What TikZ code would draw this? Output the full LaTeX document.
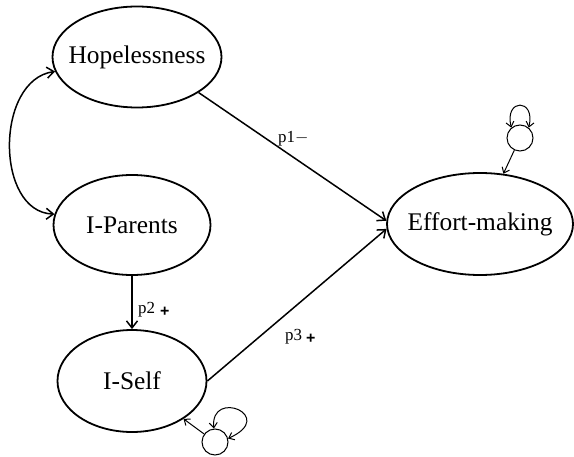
\documentclass[tikz,border=0pt]{standalone}
\usepackage{fontspec}
\setmainfont{Liberation Serif}
\setsansfont{Liberation Sans}
\usepackage{tikz}
\usetikzlibrary{arrows.meta,positioning,shapes.geometric}

\begin{document}
\begin{tikzpicture}[
  x=1bp, y=-1bp,
  font=\fontsize{25.5}{28}\selectfont,
  lat/.style={ellipse, draw=black, line width=1.8bp, inner sep=0pt},
  err/.style={circle, draw=black, line width=1bp, minimum size=26bp, inner sep=0pt},
  path/.style={-{Straight Barb[length=7bp,width=11bp]}, line width=1.5bp},
  cov/.style={{Straight Barb[length=7bp,width=11bp]}-{Straight Barb[length=7bp,width=11bp]}, line width=1.5bp},
  eps/.style={-{Straight Barb[length=5bp,width=8bp]}, line width=1bp},
  var/.style={{Straight Barb[length=5bp,width=8bp]}-{Straight Barb[length=5bp,width=8bp]}, line width=1bp},
  plab/.style={font=\fontsize{17}{19}\selectfont, anchor=west, inner sep=0pt},
  plus/.style={font=\fontsize{16}{18}\selectfont\sffamily\bfseries, anchor=west, inner sep=0pt},
]
\useasboundingbox (0,0) rectangle (574,457);

% ============ latent variables ============
% text in a zero-width box so that the ellipse keeps its minimum size
\node[lat, minimum width=169bp, minimum height=101bp] (hope) at (137,57) {\makebox[0pt]{Hopelessness}};
\node[lat, minimum width=157bp, minimum height=100bp] (par)  at (132,225) {\makebox[0pt]{I-Parents}};
\node[lat, minimum width=149bp, minimum height=102bp] (self) at (132,381) {\makebox[0pt]{I-Self}};
\node[lat, minimum width=186bp, minimum height=102bp] (eff)  at (480,224) {\makebox[0pt]{Effort-making}};

% ============ residuals ============
\node[err] (e1) at (520,138) {};
\node[err] (e2) at (215,442) {};

% ============ paths ============
\draw[cov] (hope.190) .. controls (-5,80) and (-5,212) .. (par.172);
\draw[path] (hope.-30) -- (eff.178);
\draw[path] (par.south) -- (self.north);
\draw[path] (self.east) -- (eff.183);

% ============ residual arrows and variances ============
\draw[eps] (e1) -- (eff);
\draw[eps] (e2) -- (self);
\draw[var] (e1.130) .. controls (504,98) and (536,98) .. (e1.50);
\draw[var] (e2.95) .. controls (210,388) and (278,416) .. (e2.15);

% ============ labels ============
\node[plab] (l1) at (278,139) {p1$-$};
\node[plab] (l2) at (138,310) {p2};
\node[plus] (s2) at (160,312) {+};
\node[plab] (l3) at (285,337) {p3};
\node[plus] (s3) at (306,339) {+};

\end{tikzpicture}
\end{document}
